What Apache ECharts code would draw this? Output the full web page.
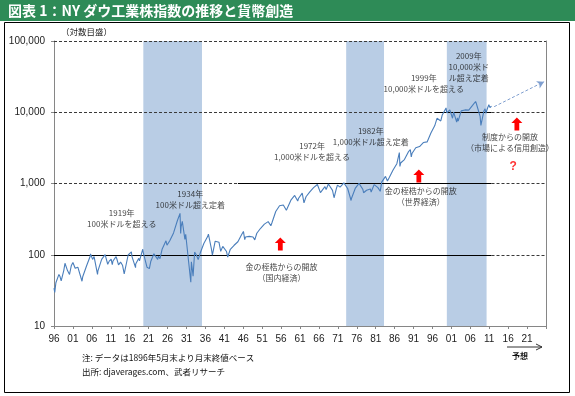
<!DOCTYPE html>
<html><head><meta charset="utf-8">
<script src="https://cdn.jsdelivr.net/npm/echarts@6/dist/echarts.min.js"></script>
<style>html,body{margin:0;padding:0;background:#fff}#c{width:575px;height:396px}</style>
</head><body><div id="c"></div>
<script>
// ---- data ----
const dowSeries = [
[1896.4,34],[1896.6,29.6],[1896.9,40.5],[1897.3,38.5],[1897.7,53],[1897.99,49.4],[1898.3,43],[1898.99,60.5],
[1899.3,76],[1899.97,60],[1900.5,53],[1900.99,70.7],[1901.4,78],[1901.99,64.6],[1902.7,67],[1902.99,64.3],
[1903.8,42.5],[1903.99,49.1],[1904.99,69.6],[1905.99,96.2],[1906.05,103],[1906.6,86],[1906.99,94.4],[1907.9,53],
[1907.99,58.8],[1908.99,86.2],[1909.9,100.5],[1910.6,73.6],[1910.99,81.4],[1911.5,87],[1911.8,72.9],[1911.99,81.7],
[1912.8,94],[1912.99,87.9],[1913.45,72],[1913.99,78.8],[1914.5,71.4],[1914.95,54],[1915.99,99.2],[1916.85,110],
[1916.99,95],[1917.95,65.9],[1917.99,74.4],[1918.8,89],[1918.99,82.2],[1919.85,119.6],[1919.99,107.2],[1920.97,66.8],
[1921.6,63.9],[1921.99,81.1],[1922.8,103],[1922.99,98.7],[1923.2,105],[1923.8,86],[1923.99,95.5],[1924.4,88.3],
[1924.99,120.5],[1925.99,156.7],[1926.15,162],[1926.25,136],[1926.99,157.2],[1927.99,202.4],[1928.99,300],[1929.7,381.2],
[1929.87,198.7],[1929.99,248.5],[1930.3,294],[1930.99,164.6],[1931.2,194],[1931.99,77.9],[1932.55,41.2],[1932.7,79.9],
[1932.99,59.9],[1933.15,50],[1933.55,108.7],[1933.99,99.9],[1934.5,85.5],[1934.99,104],[1935.99,144.1],[1936.99,179.9],
[1937.2,194.4],[1937.99,120.9],[1938.25,99],[1938.99,154.8],[1939.99,150.2],[1940.45,111.8],[1940.99,131.1],[1941.99,111],
[1942.3,92.9],[1942.99,119.4],[1943.99,135.9],[1944.99,152.3],[1945.99,192.9],[1946.45,212.5],[1946.8,163],[1946.99,177.2],
[1947.99,181.2],[1948.45,193],[1948.99,177.3],[1949.45,161.6],[1949.99,200.1],[1950.99,235.4],[1951.99,269.2],[1952.99,291.9],
[1953.7,255.5],[1953.99,280.9],[1954.99,404.4],[1955.99,488.4],[1956.3,521],[1956.99,499.5],[1957.8,420],[1957.99,435.7],
[1958.99,583.7],[1959.99,679.4],[1960.8,566],[1960.99,615.9],[1961.99,731.1],[1962.45,535.8],[1962.99,652.1],[1963.99,763],
[1964.99,874.1],[1965.99,969.3],[1966.1,995],[1966.8,744],[1966.99,785.7],[1967.99,905.1],[1968.3,825],[1968.9,985],
[1968.99,943.8],[1969.99,800.4],[1970.4,631],[1970.99,838.9],[1971.3,950],[1971.99,890.2],[1972.99,1020],[1973.05,1051],
[1973.99,850.9],[1974.9,577.6],[1974.99,616.2],[1975.99,852.4],[1976.99,1004.7],[1977.99,831.2],[1978.2,742],[1978.99,805],
[1979.99,838.7],[1980.2,759],[1980.99,964],[1981.3,1024],[1981.99,875],[1982.6,777],[1982.99,1046.5],[1983.99,1258.6],
[1984.5,1086],[1984.99,1211.6],[1985.99,1546.7],[1986.99,1896],[1987.65,2722],[1987.8,1738],[1987.99,1938.8],[1988.99,2168.6],
[1989.99,2753.2],[1990.55,2999],[1990.8,2365],[1990.99,2633.7],[1991.99,3168.8],[1992.99,3301.1],[1993.99,3754.1],[1994.99,3834.4],
[1995.99,5117.1],[1996.99,6448.3],[1997.6,8222],[1997.99,7908.3],[1998.6,7539],[1998.99,9181.4],[1999.99,11497],[2000.05,11723],
[2000.2,9796],[2000.99,10787],[2001.7,8236],[2001.99,10021],[2002.8,7286],[2002.99,8341.6],[2003.2,7524],[2003.99,10454],
[2004.99,10783],[2005.99,10717.5],[2006.99,12463],[2007.8,14165],[2007.99,13265],[2008.99,8776],[2009.2,6547],[2009.99,10428],
[2010.3,11205],[2010.5,9686],[2010.99,11577.5],[2011.3,12810],[2011.6,11613],[2011.99,12218]
];
const xTickYears = [1896,1901,1906,1911,1916,1921,1926,1931,1936,1941,1946,1951,1956,1961,1966,1971,1976,1981,1986,1991,1996,2001,2006,2011,2016,2021,2026];
const xLabelYears = [1896,1901,1906,1911,1916,1921,1926,1931,1936,1941,1946,1951,1956,1961,1966,1971,1976,1981,1986,1991,1996,2001,2006,2011,2016,2021];
const monthOffset = 0.4; // data start: end of May
const yTickValues = [10,100,1000,10000,100000];
const shadedBands = [[1920.0,1935.5],[1973.6,1983.6],[2000.2,2010.7]];
const refLevels = [100,1000,10000,100000];
const refSolidFrom = [1896.4,1945,1997,null];
const refSolidTo = 2012;
const annotationTexts = ['1919年\n100米ドルを超える','1934年\n100米ドル超え定着','1972年\n1,000米ドルを超える','1982年\n1,000米ドル超え定着','1999年\n10,000米ドルを超える','2009年\n10,000米ド\nル超え定着','金の桎梏からの開放\n（国内経済）','金の桎梏からの開放\n（世界経済）','制度からの開放\n（市場による信用創造）'];
const annotationYears = [1914.3,1932.4,1964.6,1980.1,1994.1,2006.0,1956.5,1993.3,2016.9];
const annotationValues = [325,606,2858,4641,25760,43150,56.4,657,3762];
const arrowYears = [1956.2,1992.8,2018.7];
const arrowValues = [141.6,1274,6840];
const questionPoint = [2017.7,1704];
const forecastYears = [2012.7,2025.9];
const forecastValues = [11970,26860];

// ---- chart ----
const xMin = xTickYears[0] + monthOffset, xMax = xTickYears[xTickYears.length-1] + monthOffset;
const FONT = '"Liberation Sans","Noto Sans CJK JP",sans-serif';
const dashStyle = {type:[3,2], color:'#3a3a3a', width:1};
const solidStyle = {type:'solid', color:'#000', width:1};
const refSegments = [];
refLevels.forEach((lv,i)=>{
  const s = refSolidFrom[i];
  if (s === null) { refSegments.push([{coord:[xMin,lv],lineStyle:dashStyle},{coord:[xMax,lv]}]); return; }
  if (s > xMin) refSegments.push([{coord:[xMin,lv],lineStyle:dashStyle},{coord:[s,lv]}]);
  refSegments.push([{coord:[s,lv],lineStyle:solidStyle},{coord:[refSolidTo,lv]}]);
  refSegments.push([{coord:[refSolidTo,lv],lineStyle:dashStyle},{coord:[xMax,lv]}]);
});
const chart = echarts.init(document.getElementById('c'), null, {renderer:'canvas'});
chart.setOption({
  animation:false,
  backgroundColor:'#fff',
  textStyle:{fontFamily:FONT},
  grid:{left:54,right:29,top:41,bottom:70,outerBoundsMode:'none'},
  xAxis:{type:'value',min:xMin,max:xMax,
    axisLine:{lineStyle:{color:'#868686'}},
    axisTick:{customValues:xTickYears.map(y=>y+monthOffset),length:3,lineStyle:{color:'#868686'}},
    axisLabel:{customValues:xLabelYears.map(y=>y+monthOffset),color:'#222',fontSize:10,margin:8,fontFamily:FONT,
      formatter:v=>String(Math.floor(v)%100).padStart(2,'0')},
    splitLine:{show:false}},
  yAxis:[{type:'log',logBase:10,min:yTickValues[0],max:yTickValues[yTickValues.length-1],
    axisLine:{show:true,lineStyle:{color:'#868686'}},
    axisTick:{show:true,length:3,lineStyle:{color:'#868686'}},
    axisLabel:{color:'#222',fontSize:10,margin:9,fontFamily:FONT,formatter:v=>Math.round(v).toLocaleString('en-US')},
    splitLine:{show:false}},
   {type:'value',min:0,max:1,position:'right',axisLine:{show:true,lineStyle:{color:'#868686'}},
    axisTick:{show:false},axisLabel:{show:false},splitLine:{show:false}}],
  series:[
    {type:'scatter',name:'bands',data:[[xMin,10]],symbolSize:0,silent:true,z:1,
      markArea:{silent:true,z:1,itemStyle:{color:'#b9cde5'},data:shadedBands.map(b=>[{xAxis:b[0]},{xAxis:b[1]}])}},
    {type:'scatter',name:'levels',data:[[xMin,10]],symbolSize:0,silent:true,z:2,
      markLine:{silent:true,z:2,symbol:['none','none'],label:{show:false},data:refSegments}},
    {type:'line',name:'NYダウ',data:dowSeries,showSymbol:false,symbol:'none',z:4,
      lineStyle:{color:'#4a7ebb',width:1.1},
      markLine:{silent:true,z:4,symbol:['none','arrow'],symbolSize:[6,7],label:{show:false},
        lineStyle:{type:[3,2],color:'#7f9fd0',width:1},
        data:[[{coord:[forecastYears[0],forecastValues[0]]},{coord:[forecastYears[1],forecastValues[1]]}]]}},
    {type:'scatter',name:'arrows',z:5,silent:true,
      symbol:'path://M6,0 L12,6 L8.6,6 L8.6,14 L3.4,14 L3.4,6 L0,6 Z',symbolSize:[11,13],
      itemStyle:{color:'#ff0000',opacity:1},
      data:arrowYears.map((y,i)=>[y,arrowValues[i]])},
    {type:'scatter',name:'notes',z:6,silent:true,symbolSize:0,
      label:{show:true,position:'inside',formatter:'{b}',color:'#111',fontSize:8,lineHeight:11,align:'center',fontFamily:'"Noto Sans CJK JP","Liberation Sans",sans-serif'},
      data:annotationTexts.map((t,i)=>({name:t,value:[annotationYears[i],annotationValues[i]]}))},
    {type:'scatter',name:'q',z:6,silent:true,symbolSize:0,
      label:{show:true,position:'inside',formatter:'?',color:'#ff0000',fontSize:12,fontWeight:'bold',fontFamily:FONT},
      data:[questionPoint]}
  ],
  graphic:[
    {type:'rect',shape:{x:4.5,y:22.5,width:565,height:370},style:{fill:null,stroke:'#000',lineWidth:1},z:0},
    {type:'rect',shape:{x:0,y:0,width:575,height:21},style:{fill:'#2e8b57'},z:10},
    {type:'text',x:8,y:11,style:{text:'図表 1：NY ダウ工業株指数の推移と貨幣創造',fill:'#fff',font:'bold 14px "Noto Sans CJK JP",sans-serif',verticalAlign:'middle'},z:11},
    {type:'text',x:61,y:32,style:{text:'（対数目盛）',fill:'#222',font:'8.5px "Noto Sans CJK JP",sans-serif',verticalAlign:'middle'},z:11},
    {type:'text',x:82,y:358,style:{text:'注: データは1896年5月末より月末終値ベース',fill:'#111',font:'8.5px "Noto Sans CJK JP",sans-serif',verticalAlign:'middle'},z:11},
    {type:'text',x:82,y:372,style:{text:'出所: djaverages.com、武者リサーチ',fill:'#111',font:'8.5px "Noto Sans CJK JP",sans-serif',verticalAlign:'middle'},z:11},
    {type:'polyline',shape:{points:[[507,347],[542,347]]},style:{stroke:'#333',lineWidth:1},z:11},
    {type:'polyline',shape:{points:[[536,344],[542,347],[536,350]]},style:{stroke:'#333',lineWidth:1,fill:null},z:11},
    {type:'text',x:520,y:356,style:{text:'予想',fill:'#111',font:'bold 8px "Noto Sans CJK JP",sans-serif',align:'center',verticalAlign:'middle'},z:11}
  ]
});
</script></body></html>
